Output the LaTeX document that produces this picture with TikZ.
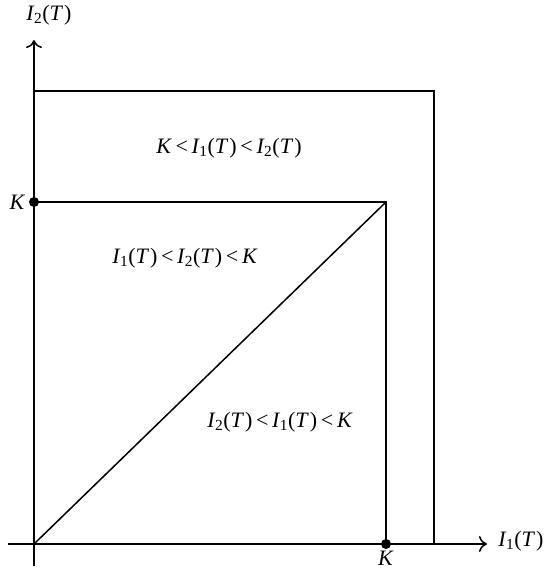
\documentclass[tikz,border=0pt]{standalone}
\usepackage{fontspec}
\setmainfont{Liberation Serif}
\usetikzlibrary{arrows.meta}
\newcommand{\IT}[1]{\textit{I}\kern-0.5pt\textsubscript{#1}(\textit{T}\kern1pt)}
\newcommand{\KK}{\textit{K}}

\begin{document}
\begin{tikzpicture}[x=1pt,y=-1pt, line width=1.5pt,
	every node/.style={font=\fontsize{22}{25}\selectfont, inner sep=1pt},
	dot/.style={circle, fill, inner sep=0pt, minimum size=10pt}]
	\useasboundingbox (0,0) rectangle (545,571);
	% axes
	\coordinate (xs) at (8,544);
	\coordinate (xe) at (487,544);
	\coordinate (ys) at (34,566);
	\coordinate (ye) at (34,40);
	\coordinate (O) at (34,544);
	\draw[-{To[length=8pt,width=16pt]}] (xs) -- (xe);
	\draw[-{To[length=8pt,width=16pt]}] (ys) -- (ye);
	\node (xlab) at (521,541) {\IT{1}};
	\node (ylab) at (49,15) {\IT{2}};
	% squares
	\coordinate (outA) at (34,91);
	\coordinate (outB) at (434,91);
	\coordinate (outC) at (434,544);
	\coordinate (KK) at (386,202);
	\node[dot] (Ky) at (34,202) {};
	\node[dot] (Kx) at (386,544) {};
	\draw (outA) -- (outB) -- (outC);
	\draw (Ky.center) -- (KK) -- (Kx.center);
	\draw (O) -- (KK);
	\node[left=7pt] (Kylab) at (Ky) {\KK};
	\node[below=5pt] (Kxlab) at (Kx) {\KK};
	% regions
	\node (r1) at (229,148) {\KK\,<\,\IT{1}\,<\,\IT{2}};
	\node (r2) at (185,258) {\IT{1}\,<\,\IT{2}\,<\,\KK};
	\node (r3) at (280,422) {\IT{2}\,<\,\IT{1}\,<\,\KK};
\end{tikzpicture}
\end{document}
